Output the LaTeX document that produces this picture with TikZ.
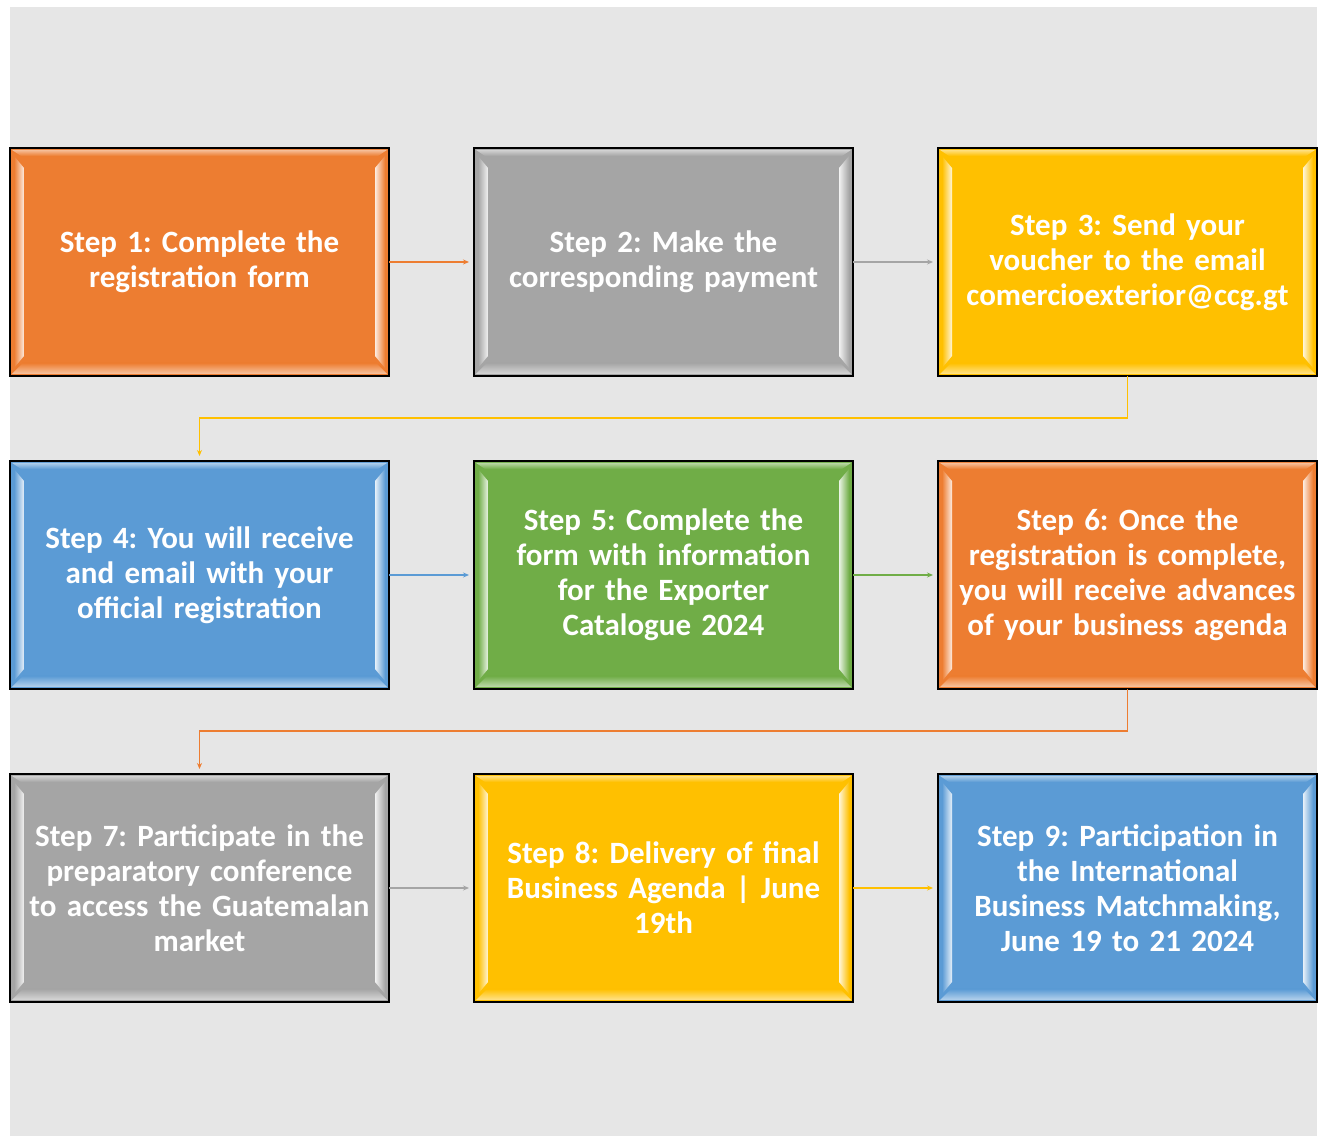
\documentclass[tikz,border=0pt]{standalone}
\usepackage{fontspec}
\setmainfont{Carlito}
\usepackage{tikz}
\usetikzlibrary{arrows.meta, positioning, calc}

\definecolor{stepOrange}{HTML}{ED7D31}
\definecolor{stepGray}{HTML}{A5A5A5}
\definecolor{stepYellow}{HTML}{FFC000}
\definecolor{stepBlue}{HTML}{5B9BD5}
\definecolor{stepGreen}{HTML}{70AD47}
\definecolor{canvas}{HTML}{E6E6E6}

\tikzset{
  stepbox/.style={rectangle, draw=black, line width=1.5pt, fill=#1,
    minimum width=379pt, minimum height=228pt, text width=376pt,
    inner sep=0pt, outer sep=0pt, align=center, text=white,
    font=\bfseries\fontsize{31}{35}\selectfont\frenchspacing},
  flow/.style={draw=#1, line width=1.1pt, -{Stealth[length=6pt, width=5pt]}, shorten >=5pt}
}

\begin{document}
\begin{tikzpicture}[x=1pt, y=1pt, node distance=85pt]
    \useasboundingbox (0,0) rectangle (1318,1136);
    \fill[canvas] (10,0) rectangle (1317,1129);

    \node[stepbox=stepOrange] (step1) at (199.5,874) {Step 1: Complete the\\registration form};
    \node[stepbox=stepGray] (step2) [right=of step1] {Step 2: Make the\\corresponding payment};
    \node[stepbox=stepYellow] (step3) [right=of step2] {Step 3: Send your\\voucher to the email\\comercioexterior@ccg.gt};
    \node[stepbox=stepBlue] (step4) [below=of step1] {Step 4: You will receive\\and email with your\\official registration};
    \node[stepbox=stepGreen] (step5) [right=of step4] {Step 5: Complete the\\form with information\\for the Exporter\\Catalogue 2024};
    \node[stepbox=stepOrange] (step6) [right=of step5] {Step 6: Once the\\registration is complete,\\you will receive advances\\of your business agenda};
    \node[stepbox=stepGray] (step7) [below=of step4] {Step 7: Participate in the\\preparatory conference\\to access the Guatemalan\\market};
    \node[stepbox=stepYellow] (step8) [right=of step7] {Step 8: Delivery of final\\Business Agenda | June\\19th};
    \node[stepbox=stepBlue] (step9) [right=of step8] {Step 9: Participation in\\the International\\Business Matchmaking,\\June 19 to 21 2024};

    \foreach \n/\c in {step1/stepOrange, step2/stepGray, step3/stepYellow, step4/stepBlue, step5/stepGreen, step6/stepOrange, step7/stepGray, step8/stepYellow, step9/stepBlue} {
        \begin{scope}[shift={(\n.south west)}]
            \shade[left color=\c, right color=\c!15!white] (4,8) -- (14,20) -- (14,208) -- (4,220) -- cycle;
            \shade[right color=\c, left color=\c!15!white] (375,8) -- (365,20) -- (365,208) -- (375,220) -- cycle;
            \shade[bottom color=\c!45!white, top color=\c] (2,2) -- (377,2) -- (366,13) -- (13,13) -- cycle;
            \shade[top color=\c!50!white, bottom color=\c] (2,226) -- (377,226) -- (368,220) -- (11,220) -- cycle;
        \end{scope}
    }

    \draw[flow=stepOrange] (step1.east) -- (step2.west);
    \draw[flow=stepGray] (step2.east) -- (step3.west);
    \draw[flow=stepYellow] (step3.south) -- ++(0,-42) -| (step4.north);
    \draw[flow=stepBlue] (step4.east) -- (step5.west);
    \draw[flow=stepGreen] (step5.east) -- (step6.west);
    \draw[flow=stepOrange] (step6.south) -- ++(0,-42) -| (step7.north);
    \draw[flow=stepGray] (step7.east) -- (step8.west);
    \draw[flow=stepYellow] (step8.east) -- (step9.west);
\end{tikzpicture}
\end{document}
